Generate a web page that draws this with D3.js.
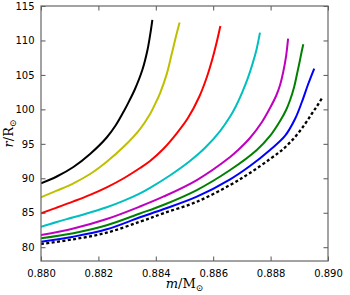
<!DOCTYPE html>
<html>
<head>
<meta charset="utf-8">
<script src="https://cdn.jsdelivr.net/npm/d3@7"></script>
<style>
  body { margin: 0; background: #fff; }
  .tick-label { font-family: "DejaVu Sans", sans-serif; font-size: 10px; fill: #000; }
  .math { font-family: "DejaVu Serif", "Liberation Serif", serif; font-size: 13px; fill: #000; }
</style>
</head>
<body>
<div class="vis"></div>
<script>
const X_TICKS = [0.880, 0.882, 0.884, 0.886, 0.888, 0.890];
const Y_TICKS = [80, 85, 90, 95, 100, 105, 110, 115];

// mass (m / Msun) and radius (r / Rsun), one pair of arrays per curve
const BLACK_M = [0.88000, 0.88055, 0.88113, 0.88171, 0.88229, 0.88261, 0.88291, 0.88309, 0.88326, 0.88353, 0.88371, 0.88383, 0.88388];
const BLACK_R = [89.27, 90.26, 91.64, 93.53, 95.92, 97.73, 99.91, 101.36, 102.81, 105.71, 108.62, 111.52, 112.97];

const YELLOW_M = [0.88000, 0.88055, 0.88113, 0.88171, 0.88229, 0.88287, 0.88345, 0.88380, 0.88402, 0.88415, 0.88438, 0.88455, 0.88470, 0.88483];
const YELLOW_R = [87.24, 88.20, 89.27, 90.62, 92.41, 94.54, 97.15, 99.33, 101.16, 102.37, 105.12, 107.95, 110.55, 112.60];

const RED_M = [0.88000, 0.88055, 0.88113, 0.88171, 0.88229, 0.88287, 0.88345, 0.88380, 0.88426, 0.88473, 0.88512, 0.88551, 0.88578, 0.88599, 0.88614, 0.88625];
const RED_R = [84.92, 85.75, 86.65, 87.60, 88.69, 89.97, 91.49, 92.51, 94.25, 96.53, 98.75, 101.80, 104.70, 107.60, 110.07, 112.10];

const CYAN_M = [0.88000, 0.88055, 0.88113, 0.88171, 0.88229, 0.88287, 0.88345, 0.88380, 0.88449, 0.88519, 0.88571, 0.88624, 0.88659, 0.88679, 0.88700, 0.88720, 0.88737, 0.88751, 0.88763];
const CYAN_R = [82.98, 83.67, 84.34, 85.04, 85.79, 86.72, 87.82, 88.62, 90.41, 92.51, 94.40, 96.86, 98.96, 100.46, 102.35, 104.45, 106.60, 108.70, 111.13];

const MAGENTA_M = [0.88000, 0.88113, 0.88229, 0.88345, 0.88426, 0.88543, 0.88659, 0.88687, 0.88728, 0.88770, 0.88798, 0.88819, 0.88833, 0.88844, 0.88854, 0.88861];
const MAGENTA_R = [81.77, 82.72, 84.09, 85.91, 87.33, 89.75, 93.09, 94.11, 95.85, 98.17, 100.20, 101.94, 103.54, 105.42, 107.74, 110.26];

const GREEN_M = [0.88000, 0.88113, 0.88229, 0.88345, 0.88426, 0.88543, 0.88659, 0.88752, 0.88798, 0.88833, 0.88854, 0.88868, 0.88882, 0.88892, 0.88901, 0.88908, 0.88914];
const GREEN_R = [81.29, 82.02, 83.18, 84.89, 86.13, 88.30, 91.20, 94.11, 96.14, 98.31, 99.91, 101.36, 103.25, 105.13, 106.87, 108.33, 109.44];

const BLUE_M = [0.88000, 0.88113, 0.88229, 0.88345, 0.88426, 0.88543, 0.88659, 0.88728, 0.88798, 0.88850, 0.88885, 0.88909, 0.88931, 0.88952];
const BLUE_R = [80.80, 81.53, 82.60, 84.34, 85.50, 87.33, 89.85, 91.78, 94.11, 96.14, 98.60, 101.07, 103.68, 105.93];

const DASHED_M = [0.88000, 0.88113, 0.88229, 0.88345, 0.88426, 0.88543, 0.88659, 0.88728, 0.88798, 0.88844, 0.88885, 0.88920, 0.88943, 0.88962, 0.88978];
const DASHED_R = [80.47, 81.15, 82.11, 83.70, 84.92, 86.60, 89.03, 90.77, 92.80, 94.25, 95.99, 97.88, 99.33, 100.49, 101.55];

const SERIES = [
  { m: BLACK_M, r: BLACK_R, color: "#000000" },
  { m: YELLOW_M, r: YELLOW_R, color: "#bfbf00" },
  { m: RED_M, r: RED_R, color: "#ff0000" },
  { m: CYAN_M, r: CYAN_R, color: "#00bfbf" },
  { m: MAGENTA_M, r: MAGENTA_R, color: "#bf00bf" },
  { m: GREEN_M, r: GREEN_R, color: "#008000" },
  { m: BLUE_M, r: BLUE_R, color: "#0000ff" },
  { m: DASHED_M, r: DASHED_R, color: "#000000", dash: "3,2.4" }
];

const W = 350, H = 295;
const mLeft = 41, mTop = 6, mRight = 328, mBottom = 261;
const TICK = 4.5;

const svg = d3.select(".vis").append("svg").attr("width", W).attr("height", H);

const x = d3.scaleLinear().domain([0.880, 0.890]).range([mLeft, mRight]);
const y = d3.scaleLinear().domain([78, 115]).range([mBottom, mTop]);

// Curves
const line = d3.line()
  .x(d => x(d[0]))
  .y(d => y(d[1]))
  .curve(d3.curveCatmullRom.alpha(0.5));

svg.append("clipPath").attr("id", "plot-clip")
  .append("rect").attr("x", mLeft).attr("y", mTop).attr("width", mRight - mLeft).attr("height", mBottom - mTop);

svg.append("g").attr("clip-path", "url(#plot-clip)")
  .selectAll("path").data(SERIES).enter().append("path")
  .attr("d", s => line(d3.zip(s.m, s.r)))
  .attr("fill", "none")
  .attr("stroke", s => s.color)
  .attr("stroke-width", s => s.dash ? 2.3 : 2)
  .attr("stroke-dasharray", s => s.dash || null);

// Axes (inward ticks on all four sides, matplotlib style)
const tickColor = "#555";
const fmtX = d3.format(".3f");

const bottomAxis = svg.append("g").attr("transform", `translate(0,${mBottom})`)
  .call(d3.axisBottom(x).tickValues(X_TICKS).tickFormat(fmtX).tickSizeInner(-TICK).tickSizeOuter(0).tickPadding(TICK + 4));
const topAxis = svg.append("g").attr("transform", `translate(0,${mTop})`)
  .call(d3.axisTop(x).tickValues(X_TICKS).tickFormat("").tickSizeInner(-TICK).tickSizeOuter(0));
const leftAxis = svg.append("g").attr("transform", `translate(${mLeft},0)`)
  .call(d3.axisLeft(y).tickValues(Y_TICKS).tickSizeInner(-TICK).tickSizeOuter(0).tickPadding(TICK + 2));
const rightAxis = svg.append("g").attr("transform", `translate(${mRight},0)`)
  .call(d3.axisRight(y).tickValues(Y_TICKS).tickFormat("").tickSizeInner(-TICK).tickSizeOuter(0));

[bottomAxis, topAxis, leftAxis, rightAxis].forEach(g => {
  g.attr("font-family", null).attr("font-size", null);
  g.select(".domain").remove();
  g.selectAll(".tick line").attr("stroke", tickColor).attr("stroke-width", 1);
  g.selectAll(".tick text").attr("class", "tick-label");
});

// Frame
svg.append("rect")
  .attr("x", mLeft).attr("y", mTop)
  .attr("width", mRight - mLeft).attr("height", mBottom - mTop)
  .attr("fill", "none").attr("stroke", "#666").attr("stroke-width", 1.2);

// Axis labels
const xLabel = svg.append("text").attr("class", "math")
  .attr("x", (mLeft + mRight) / 2).attr("y", 288).attr("text-anchor", "middle");
xLabel.append("tspan").attr("font-style", "italic").text("m");
xLabel.append("tspan").text("/M");
xLabel.append("tspan").attr("dy", 3).attr("font-size", 9).text("⊙");

const yLabel = svg.append("text").attr("class", "math")
  .attr("transform", `translate(13,${(mTop + mBottom) / 2}) rotate(-90)`)
  .attr("text-anchor", "middle");
yLabel.append("tspan").attr("font-style", "italic").text("r");
yLabel.append("tspan").text("/R");
yLabel.append("tspan").attr("dy", 3).attr("font-size", 9).text("⊙");
</script>
</body>
</html>
